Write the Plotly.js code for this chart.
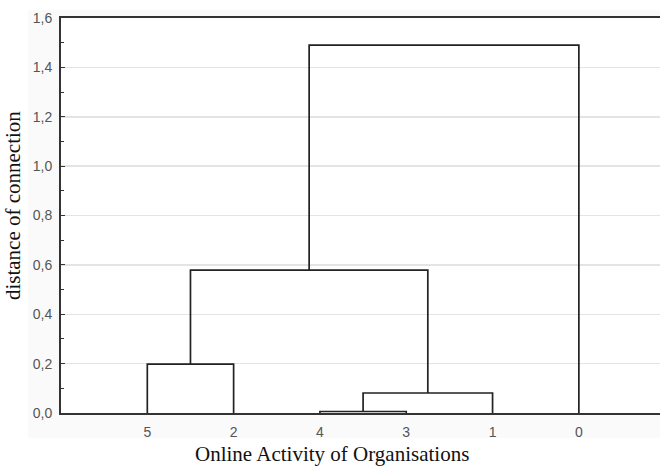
<!DOCTYPE html>
<html>
<head>
<meta charset="utf-8">
<script src="https://cdn.plot.ly/plotly-3.0.1.min.js"></script>
<style>html,body{margin:0;padding:0;background:#fff;}#chart{width:660px;height:467px;}</style>
</head>
<body>
<div id="chart"></div>
<script>
// Leaves in dendrogram order (left to right)
var leaves = ['5', '2', '4', '3', '1', '0'];
// Merges: [left node, right node, distance of connection]
// Nodes named by leaf label or by merge id (M0, M1, ...)
var mergeLeft  = ['4', '5',  'M0', 'M1', 'M3'];
var mergeRight = ['3', '2',  '1',  'M2', '0'];
var mergeDist  = [0.006, 0.198, 0.081, 0.579, 1.49];
var yTickVals = [0, 0.2, 0.4, 0.6, 0.8, 1.0, 1.2, 1.4, 1.6];
var xTitle = 'Online Activity of Organisations';
var yTitle = 'distance of connection';

var leafPos = leaves.map(function (d, i) { return i + 1; });
var nodeX = {}, nodeY = {};
leaves.forEach(function (l, i) { nodeX[l] = leafPos[i]; nodeY[l] = 0; });

var xs = [], ys = [];
for (var i = 0; i < mergeDist.length; i++) {
  var a = mergeLeft[i], b = mergeRight[i], h = mergeDist[i];
  xs.push(nodeX[a], nodeX[a], nodeX[b], nodeX[b], null);
  ys.push(nodeY[a], h, h, nodeY[b], null);
  nodeX['M' + i] = (nodeX[a] + nodeX[b]) / 2;
  nodeY['M' + i] = h;
}

var trace = {
  x: xs, y: ys, type: 'scatter', mode: 'lines',
  line: {color: '#222', width: 1.7},
  hoverinfo: 'skip', showlegend: false, connectgaps: false
};

var titleFont = {family: 'Liberation Serif, Times New Roman, serif', size: 21, color: '#111'};

var layout = {
  width: 660, height: 467,
  margin: {l: 61, r: 0, t: 18, b: 54},
  paper_bgcolor: '#ffffff',
  plot_bgcolor: '#ffffff',
  separators: ', ',
  showlegend: false,
  xaxis: {
    range: [0, 6.94],
    tickvals: leafPos, ticktext: leaves,
    ticks: '', showgrid: false, zeroline: false,
    showline: true, mirror: true, linecolor: '#333', linewidth: 2,
    tickfont: {family: 'Liberation Sans, Arial, sans-serif', size: 14, color: '#555'},
    ticklabelstandoff: 5,
    automargin: false
  },
  yaxis: {
    range: [0, 1.6],
    tickvals: yTickVals, tickformat: '.1f',
    ticks: 'inside', ticklen: 4, tickcolor: '#333', tickwidth: 1,
    minor: {dtick: 0.1, ticks: 'inside', ticklen: 3, tickcolor: '#333', showgrid: false},
    showgrid: true, gridcolor: '#e4e4e4', gridwidth: 1.5,
    zeroline: false,
    showline: true, linecolor: '#333', linewidth: 2,
    tickfont: {family: 'Liberation Sans, Arial, sans-serif', size: 14, color: '#555'},
    ticklabelstandoff: 4,
    automargin: false
  },
  annotations: [
    {text: xTitle, xref: 'paper', yref: 'paper', x: 0.452, y: -0.104,
     xanchor: 'center', yanchor: 'middle', showarrow: false, font: titleFont},
    {text: yTitle, xref: 'paper', yref: 'paper', x: -0.08, y: 0.524, textangle: -90,
     xanchor: 'center', yanchor: 'middle', showarrow: false, font: titleFont}
  ],
  shapes: [
    {type: 'rect', xref: 'paper', yref: 'paper', x0: -0.055, x1: 1.01, y0: -0.063, y1: 1.02,
     fillcolor: '#fafafa', line: {width: 0}, layer: 'below'},
    {type: 'rect', xref: 'paper', yref: 'paper', x0: 0, x1: 1.01, y0: 0, y1: 1,
     fillcolor: '#ffffff', line: {width: 0}, layer: 'below'}
  ]
};

Plotly.newPlot('chart', [trace], layout, {displayModeBar: false, staticPlot: true});
</script>
</body>
</html>
